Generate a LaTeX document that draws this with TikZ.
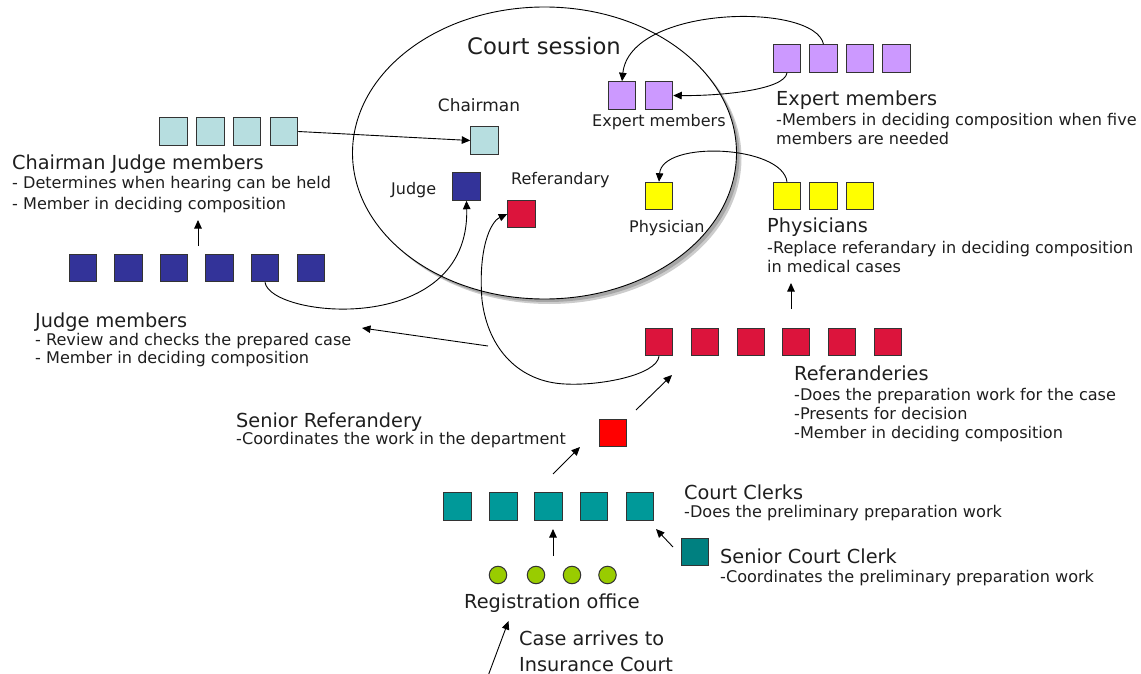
\documentclass[tikz,border=0pt]{standalone}
\usepackage{fontspec}
\setmainfont{DejaVu Sans}
\usetikzlibrary{arrows.meta}

\definecolor{chaircol}{RGB}{183,222,224}
\definecolor{judgecol}{RGB}{51,51,153}
\definecolor{refcol}{RGB}{220,20,60}
\definecolor{expertcol}{RGB}{204,153,255}
\definecolor{physcol}{RGB}{255,255,0}
\definecolor{seniorref}{RGB}{255,0,0}
\definecolor{clerkcol}{RGB}{0,153,153}
\definecolor{seniorclerk}{RGB}{0,128,128}
\definecolor{regcol}{RGB}{153,204,0}
\definecolor{inkcol}{RGB}{30,30,30}

\tikzset{
  member/.style={draw=black!80, line width=1pt, minimum size=27.5pt, inner sep=0pt},
  officer/.style={draw=black!80, line width=1pt, circle, minimum size=17.5pt, inner sep=0pt, fill=regcol},
  link/.style={line width=0.9pt, draw=black},
  flow/.style={link, -{Triangle[length=8.5pt,width=7.5pt]}},
  headtxt/.style={anchor=base west, inner sep=0pt, text=inkcol, font=\fontsize{19.3}{22}\selectfont},
  bodytxt/.style={anchor=base west, inner sep=0pt, text=inkcol, font=\fontsize{16.1}{19}\selectfont},
  roletxt/.style={anchor=base west, inner sep=0pt, text=inkcol, font=\fontsize{16}{19}\selectfont},
}

\begin{document}
\begin{tikzpicture}[x=1pt,y=-1pt]
\useasboundingbox (0,0) rectangle (1141,674);

% court session ellipse with its soft shadow
\fill[gray!40] (549.5,158) ellipse [x radius=192, y radius=146];
\fill[gray!70] (547.5,156) ellipse [x radius=192, y radius=146];
\filldraw[fill=white, draw=black, line width=0.9pt] (544.5,153) ellipse [x radius=192, y radius=146];
\node[anchor=base, inner sep=0pt, text=inkcol, font=\fontsize{22.7}{26}\selectfont] (session) at (544,55) {Court session};

% members seated in the session
\node[member, fill=chaircol] (chin) at (484.5,140.5) {};
\node[member, fill=judgecol] (jin) at (466.5,186.5) {};
\node[member, fill=refcol] (rin) at (521.5,214) {};
\node[member, fill=expertcol] (pi1) at (622,95.5) {};
\node[member, fill=expertcol] (pi2) at (659,95.5) {};
\node[member, fill=physcol] (yin) at (659,196) {};
\node[roletxt, anchor=base, font=\fontsize{17}{20}\selectfont] (chlab) at (479,112) {Chairman};
\node[roletxt] (jlab) at (391,194) {Judge};
\node[roletxt] (rlab) at (511,185) {Referandary};
\node[roletxt] (elab) at (592,127) {Expert members};
\node[roletxt] (ylab) at (629,232) {Physician};

% chairman judge members
\foreach \i/\x in {1/173.5,2/210.5,3/247,4/284}
  \node[member, fill=chaircol] (c\i) at (\x,131.5) {};
\node[headtxt] (chead) at (12,170) {Chairman Judge members};
\node[bodytxt] (cline1) at (12,189) {- Determines when hearing can be held};
\node[bodytxt] (cline2) at (12,209) {- Member in deciding composition};

% judge members
\foreach \i/\x in {1/83,2/128.5,3/174,4/219.5,5/265,6/311}
  \node[member, fill=judgecol] (j\i) at (\x,268) {};
\node[headtxt] (jhead) at (35,327) {Judge members};
\node[bodytxt] (jline1) at (35,345) {- Review and checks the prepared case};
\node[bodytxt] (jline2) at (35,363) {- Member in deciding composition};

% expert members
\foreach \i/\x in {1/787,2/823.5,3/860,4/896.5}
  \node[member, fill=expertcol] (po\i) at (\x,58.5) {};
\node[headtxt] (ehead) at (776,106) {Expert members};
\node[bodytxt] (eline1) at (776,126) {-Members in deciding composition when five};
\node[bodytxt] (eline2) at (776,145) {members are needed};

% physicians
\foreach \i/\x in {1/787,2/823.5,3/860}
  \node[member, fill=physcol] (yo\i) at (\x,196) {};
\node[headtxt] (yhead) at (767,233) {Physicians};
\node[bodytxt] (yline1) at (767,253) {-Replace referandary in deciding composition};
\node[bodytxt] (yline2) at (767,272) {in medical cases};

% referanderies
\foreach \i/\x in {1/659,2/705,3/751,4/796,5/842,6/888}
  \node[member, fill=refcol] (r\i) at (\x,342) {};
\node[headtxt] (rhead) at (794,380) {Referanderies};
\node[bodytxt] (rline1) at (794,400) {-Does the preparation work for the case};
\node[bodytxt] (rline2) at (794,419) {-Presents for decision};
\node[bodytxt] (rline3) at (794,438) {-Member in deciding composition};

% senior referandery
\node[member, fill=seniorref] (sr) at (613,433) {};
\node[headtxt] (srhead) at (236,427) {Senior Referandery};
\node[bodytxt] (srline) at (236,444) {-Coordinates the work in the department};

% court clerks
\foreach \i/\x in {1/457.5,2/503.5,3/548.5,4/594,5/640}
  \node[member, fill=clerkcol] (k\i) at (\x,506.5) {};
\node[headtxt] (khead) at (684,499) {Court Clerks};
\node[bodytxt] (kline) at (684,517) {-Does the preliminary preparation work};

% senior court clerk
\node[member, fill=seniorclerk] (sk) at (695,552) {};
\node[headtxt] (skhead) at (720,563) {Senior Court Clerk};
\node[bodytxt] (skline) at (720,582) {-Coordinates the preliminary preparation work};

% registration office
\foreach \i/\x in {1/498,2/536,3/572,4/607.5}
  \node[officer] (o\i) at (\x,575) {};
\node[headtxt] (ohead) at (464,608) {Registration office};
\node[headtxt] (arr1) at (519,645) {Case arrives to};
\node[headtxt] (arr2) at (519,671) {Insurance Court};

% free ends of the straight arrows
\coordinate (jup0) at (198,246);  \coordinate (jup1) at (198,220);
\coordinate (yup0) at (791,309);  \coordinate (yup1) at (791,283);
\coordinate (jm0) at (488,346);   \coordinate (jm1) at (362,328);
\coordinate (sr0) at (636,410);   \coordinate (sr1) at (672,375);
\coordinate (ks0) at (553,474);   \coordinate (ks1) at (580,447);
\coordinate (ok0) at (553,556);   \coordinate (ok1) at (553,529);
\coordinate (sk0) at (673,547);   \coordinate (sk1) at (656,529);
\coordinate (in0) at (488,676);   \coordinate (in1) at (508.5,621);

% connectors
\draw[flow] (c4.east) -- (chin.west);
\draw[flow] (jup0) -- (jup1);
\draw[flow] (j5.south) .. controls (270,318) and (470,338) .. (jin.south);
\draw[flow] (r1.south) .. controls (657,375) and (600,386) .. (565,384)
   .. controls (520,382) and (488,350) .. (482,300)
   .. controls (478,250) and (490,222) .. (rin.west);
\draw[flow] (jm0) -- (jm1);
\draw[flow] (po2.north) .. controls (815,2) and (630,5) .. (pi1.north);
\draw[flow] (po1.south) .. controls (785,90) and (720,96) .. (pi2.east);
\draw[flow] (yo1.north) .. controls (782,145) and (662,140) .. (yin.north);
\draw[flow] (yup0) -- (yup1);
\draw[flow] (sr0) -- (sr1);
\draw[flow] (ks0) -- (ks1);
\draw[flow] (ok0) -- (ok1);
\draw[flow] (sk0) -- (sk1);
\draw[flow] (in0) -- (in1);

\end{tikzpicture}
\end{document}
